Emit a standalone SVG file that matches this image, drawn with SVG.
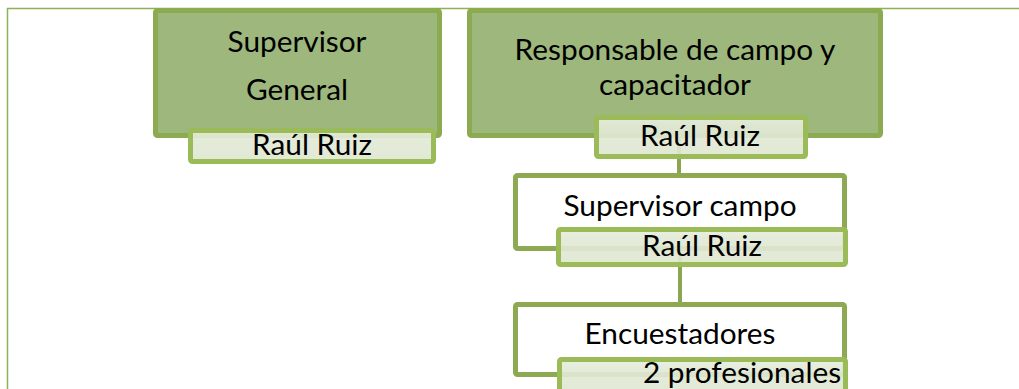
<svg xmlns="http://www.w3.org/2000/svg" width="1019" height="389" viewBox="0 0 1019 389">
<defs>
<linearGradient id="subg" x1="0" y1="0" x2="0" y2="1">
<stop offset="0" stop-color="#e9efde"/>
<stop offset="0.25" stop-color="#e2e9d6"/>
<stop offset="1" stop-color="#dfe7d1"/>
</linearGradient>
</defs>
<style>
.frame{fill:none;stroke:#8db253;stroke-width:1.5}
.big{fill:#9db77c;stroke:#8caa4f;stroke-width:5}
.white{fill:#ffffff;stroke:#8daa52;stroke-width:5}
.sub{fill:url(#subg);fill-opacity:0.92;stroke:#9bbb59;stroke-width:5}
.conn{fill:none;stroke:#8ca552;stroke-width:4}
text{font-family:Lato,"Liberation Sans",sans-serif;font-size:29.8px;fill:#000;text-anchor:middle}
</style>
<path class="frame" d="M7.5 389 V8.5 H1019"/>
<g id="connectors">
<line class="conn" x1="679" y1="100" x2="679" y2="175"/>
<line class="conn" x1="680" y1="240" x2="680" y2="304"/>
</g>
<g id="supervisor-general">
<rect class="big" x="155.5" y="10.5" width="284" height="125" rx="2"/>
<text x="297" y="52">Supervisor</text>
<text x="297" y="100">General</text>
<rect class="sub" x="190.5" y="130.5" width="243" height="31" rx="2"/>
<text x="312" y="155">Raúl Ruiz</text>
</g>
<g id="responsable">
<rect class="big" x="469.5" y="10.5" width="411" height="125" rx="2"/>
<text x="675" y="60">Responsable de campo y</text>
<text x="675" y="95">capacitador</text>
<rect class="sub" x="596.5" y="117.5" width="209" height="39" rx="2"/>
<text x="700" y="146">Raúl Ruiz</text>
</g>
<g id="supervisor-campo">
<rect class="white" x="515.5" y="175.5" width="329" height="73" rx="2"/>
<text x="680" y="216">Supervisor campo</text>
<rect class="sub" x="558.5" y="229.5" width="287" height="35" rx="2"/>
<text x="702" y="256">Raúl Ruiz</text>
</g>
<g id="encuestadores">
<rect class="white" x="515.5" y="304.5" width="329" height="70" rx="2"/>
<text x="680" y="344">Encuestadores</text>
<rect class="sub" x="559.5" y="359.5" width="286" height="40" rx="2"/>
<text x="742" y="383">2 profesionales</text>
</g>
</svg>
